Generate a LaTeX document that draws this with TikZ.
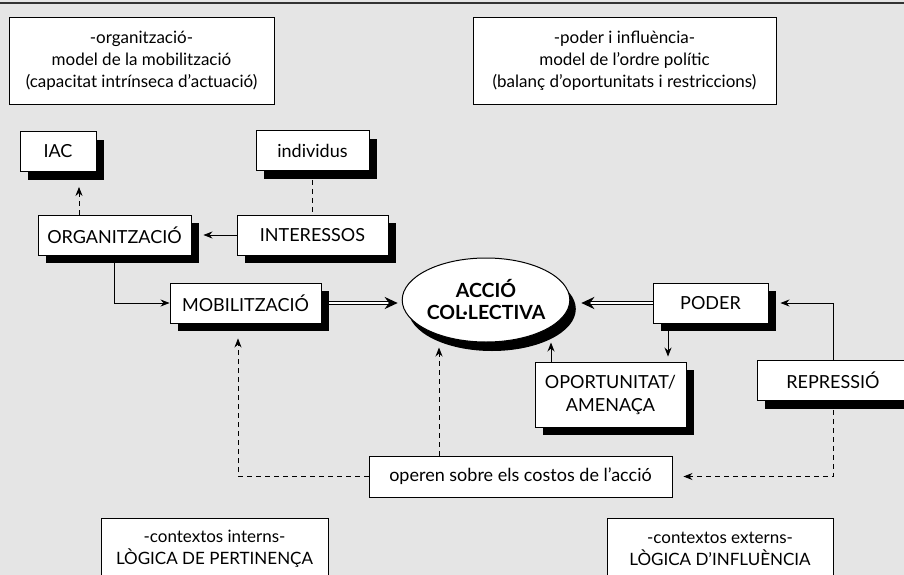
\documentclass[tikz,border=0pt]{standalone}
\usepackage{fontspec}
\setmainfont{Lato}
\usetikzlibrary{arrows.meta,shadows,shapes.geometric,decorations.markings}
\definecolor{bggray}{RGB}{229,229,229}
\tikzstyle{box}=[draw,fill=white,line width=0.9pt,inner sep=0pt,minimum height=40pt,align=center]
\tikzstyle{sbox}=[box,font=\fontsize{18}{23}\selectfont,
  drop shadow={shadow xshift=8pt,shadow yshift=-8pt,fill=black,opacity=1}]
\tikzstyle{edge}=[draw,line width=0.9pt,-{Stealth[length=9pt,width=7pt]}]
\tikzstyle{dashedge}=[edge,dash pattern=on 5pt off 4pt]
\tikzstyle{dbledge}=[draw,double,double distance=2.2pt,line width=0.8pt,shorten >=10pt,
  postaction={decorate,decoration={markings,mark=at position 1 with {\arrow{Stealth[length=13pt,width=12pt]}}}}]

\begin{document}
\begin{tikzpicture}[x=1pt,y=-1pt,font=\fontsize{17}{22}\selectfont]
				% Background and top rule
				\useasboundingbox (0,0) rectangle (904,575);
				\clip (0,0) rectangle (904,575);
				\fill[bggray] (0,0) rectangle (904,575);
				\draw[line width=1.5pt,black!80] (0,3) -- (904,3);

				% Text boxes without shadow
				\node[box,minimum width=265pt,minimum height=87pt] (orgmodel) at (141.5,60.5)
					{-organització-\\model de la mobilització\\(capacitat intrínseca d’actuació)};
				\node[box,minimum width=303pt,minimum height=87pt] (podmodel) at (624.5,60.5)
					{-poder i influència-\\model de l’ordre polític\\(balanç d’oportunitats i restriccions)};
				\node[box,minimum width=303pt,minimum height=41pt,font=\fontsize{18}{22}\selectfont] (operen) at (520.5,476.5)
					{operen sobre els costos de l’acció};
				\node[box,minimum width=227pt,minimum height=62pt] (intern) at (214.5,549)
					{-contextos interns-\\LÒGICA DE PERTINENÇA};
				\node[box,minimum width=226pt,minimum height=62pt] (extern) at (720,549)
					{-contextos externs-\\LÒGICA D’INFLUÈNCIA};

				% Then the boxes with a shadow
				\foreach \pos/\name/\bw/\txt in {{(58,151.5)/iac/76/IAC}, {(312.5,150.5)/indiv/113/individus},
										{(114.5,235)/organ/153/ORGANITZACIÓ}, {(312.5,235)/interes/151/INTERESSOS},
										{(245.5,303)/mobil/151/MOBILITZACIÓ}, {(710.5,303)/poder/115/PODER},
										{(833,380.5)/repres/152/REPRESSIÓ}}
				\node[sbox,minimum width=\bw pt] (\name) at \pos {\txt};
				\node[sbox,minimum width=151pt,minimum height=65pt] (oport) at (610.5,394.5)
					{OPORTUNITAT/\\AMENAÇA};

				% The central ellipse
				\node[ellipse,draw,fill=white,line width=1pt,minimum width=152pt,minimum height=84pt,
					inner sep=0pt,align=center,font=\fontsize{19.5}{22}\selectfont\bfseries,
					drop shadow={shadow xshift=6pt,shadow yshift=-9pt,fill=black,opacity=1}]
					(accio) at (486,300) {ACCIÓ\\COL·LECTIVA};

				% Helper points for the connectors
				\coordinate (aleft) at ([xshift=-4]accio.west);
				\coordinate (aright) at ([xshift=11]accio.east);
				\coordinate (abot) at ([yshift=-5]accio.south);
				\coordinate (pdown) at ([xshift=-42.5]poder.south);
				\coordinate (oup) at ([xshift=-59.5]oport.north);
				\coordinate (odn) at ([xshift=-81.5]operen.north);
				\coordinate (mup) at ([xshift=-7.5,yshift=-15]mobil.south);

				% Connect the boxes
				\draw[dashedge,-] (indiv) -- (interes);
				\draw[dashedge] ([xshift=-35.5]organ.north) -- ([xshift=21,yshift=-15]iac.south);
				\draw[edge,shorten >=12pt] (interes) -- (organ);
				\draw[edge] (organ.south) |- (mobil.west);
				\draw[dbledge] ([xshift=8]mobil.east) -- (aleft |- mobil.east);
				\draw[dbledge] (poder.west) -- (aright |- poder.west);
				\draw[edge,shorten >=5pt] (pdown) -- (pdown |- oport.north);
				\draw[edge] (oup) -- (oup |- accio.south);
				\draw[edge] (repres.north) |- ([xshift=12]poder.east);
				\draw[dashedge,shorten >=11pt] (repres.south) |- (operen.east);
				\draw[dashedge] (operen.west) -| (mup);
				\draw[dashedge] (odn) -- (odn |- abot);
\end{tikzpicture}
\end{document}
